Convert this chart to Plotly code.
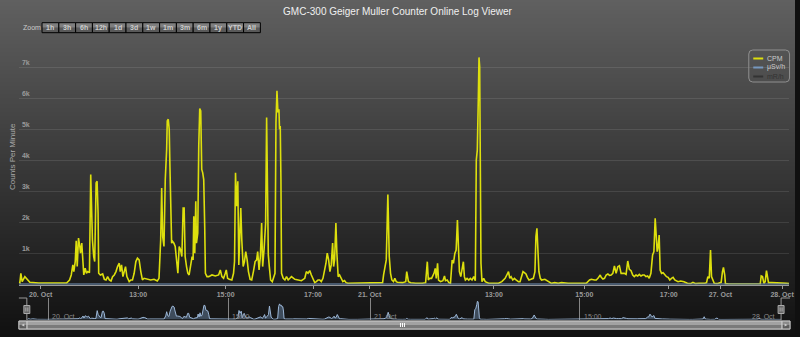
import plotly.graph_objects as go

W, H = 800, 337

# ---------------- data (ordinal sample position, counts per minute) ----------------
pos = [0, 1, 2, 3.3, 6, 8.7, 11, 20, 30, 40, 48, 51, 52.7, 54.3, 55.3, 56.7, 57.7, 58.7, 60, 61.3, 62, 63.3, 64.3, 65.3,
       66.7, 68, 69.3, 71, 72.3, 73.3, 74, 75.3, 76.3, 77.7, 78.7, 79.7, 80.3, 82, 84.3, 86, 87.7, 89.3, 91, 92.7, 94.3,
       96, 97.7, 99.3, 101, 102, 103.3, 104.7, 106, 107.3, 108.7, 111, 112.7, 114.3, 116, 117.7, 119.3, 121, 122.7,
       124.3, 126, 129.3, 132.7, 136, 139.3, 141, 142.7, 143.7, 144.7, 146, 147.3, 148.7, 149.3, 150.3, 151.3, 152,
       152.7, 153.7, 154.7, 156, 157.3, 158.7, 160, 161.3, 162.7, 164, 165.3, 166.3, 167.3, 168.7, 170, 171.3, 172.7,
       174.3, 175.3, 176, 177, 178, 178.7, 180, 181, 182, 183, 184, 185, 186, 187, 187.7, 189.3,
       191, 194.3, 197.7, 201, 202.7, 204.3, 206, 207.7, 208.7, 210, 211.7, 214.3, 216, 217, 218, 219, 220.3, 221.3,
       222.3, 223.3, 224.3, 225.7, 227, 228.3, 229.7, 231, 232.7, 234.3, 236, 237.7, 239.3, 240.3, 241.7, 243, 244.3,
       245.3, 246.7, 248.3, 249.3, 250, 251, 252, 253.3, 255, 256.3, 257.7, 258.7, 259.7, 260.7, 261.7, 262.3, 263,
       263.7, 264.3, 266, 267.7, 269.3, 271, 272.7, 274.3, 277.7, 281, 284.3, 287.7, 289.3, 291, 292.7, 294.3, 296,
       297.7, 299.3, 301, 302.7, 304.3, 306, 307.7, 309, 310.3, 311.7, 313, 314.3, 315.7, 316.7, 317.7, 319, 320,
       321.3, 322.7, 324.3, 326, 327.7, 329.3, 331, 340, 350, 358, 366, 367, 368.3, 369.7, 371.3, 372.7, 374, 375.3,
       377, 378.3, 379.7, 381, 386,
       389.3, 390.3, 392, 394.3, 399.3, 406, 409.3, 411, 412, 413.3, 415.3, 417.7, 419, 420, 421.3, 422.3, 424.3,
       426.7, 428.3, 429.3, 431, 432.7, 434.3, 436, 437.3, 438.7, 440, 441.3, 442.3, 443.3, 444.7, 446, 447.3, 448.3,
       449.3, 451, 452.7, 454.3, 456, 457.7, 459.3, 460.3, 461.3, 462.3, 463, 463.7, 464.3, 465, 466, 467.7, 469.3,
       472.7, 479.3, 482.7, 486, 489.3, 491, 492.7, 494, 495.3, 497, 498.7, 500.3, 502.7, 504.3, 506, 507.3, 508.7,
       510.3, 511.7, 513.3, 515.3, 517.7, 519.3, 520.3, 521.3, 522.3, 523.3, 524.7, 526, 529.3, 532.7, 536, 539.3,
       542.7, 546, 549.3, 552.7, 559.3, 566, 571, 574.3, 576, 579.3,
       581, 582.7, 585, 586, 587.7, 589.3, 591, 592.7, 594.3, 596, 597.7, 599.3, 601, 602.7, 604.3, 606, 607.7, 609.3,
       611, 612.7, 614.3, 616, 617.7, 619.3, 621, 622.7, 624.3, 626, 627.7, 629.3, 631, 632.7, 634.3, 636, 637.7, 639,
       640.3, 641.3, 642.3, 643.3, 644.3, 645.3, 646.7, 648.3, 650, 651.7, 653.3, 655, 656.7, 658.3, 660, 661.7, 663.3,
       666, 669.3, 672.7, 676, 678.3, 681, 684.3, 687.7, 690.3, 692, 693.3, 694.7, 696, 697, 698.3, 699.7, 702.7, 705,
       706.7, 708, 709, 710.3, 711, 714.3, 721, 731, 741, 746, 747, 748.3, 749.7, 751, 752.3, 753.3, 754.3, 757.7,
       762.7, 767.7, 772.7, 775]

cpm = [80, 59, 362, 92, 254, 146, 70, 50, 45, 55, 50, 146, 308, 632, 416, 740, 1409, 578, 1496, 1226, 1010, 1334, 578,
       308, 524, 362, 416, 383, 3548, 1982, 1442, 902, 740, 3278, 3332, 2306, 362, 308, 340, 167, 146, 254, 146, 113,
       254, 308, 416, 578, 686, 416, 632, 254, 470, 578, 254, 92, 146, 146, 362, 740, 848, 794, 416, 146, 200, 167, 146,
       167, 113, 200, 1442, 3116, 1550, 1226, 3386, 4358, 5276, 5330, 5006, 3818, 2846, 1334, 1388, 1334, 1226, 794,
       362, 1226, 1118, 902, 2468, 2468, 902, 578, 362, 308, 578, 902, 794, 2198, 1010, 2684, 1334, 1658, 4466, 5675,
       5600, 3710, 3602, 3386, 1874, 362, 254,
       254, 308, 275, 308, 470, 254, 200, 362, 470, 200, 167, 146, 362, 740, 3602, 2522, 3332, 632, 1766, 2468, 1442,
       578, 740, 1064, 794, 416, 167, 146, 416, 740, 794, 1064, 470, 902, 1982, 578, 1118, 1982, 5384, 2738, 956, 578,
       146, 92, 254, 362, 5222, 6248, 5546, 5654, 5006, 5114, 3386, 362, 200, 146, 254, 146, 200, 254, 167, 146, 124,
       200, 416, 362, 448, 308, 146, 59, 92, 146, 146, 92, 200, 470, 686, 1010, 794, 416, 632, 1334, 578, 794, 1982,
       1010, 254, 308, 200, 92, 124, 59, 38, 45, 38, 50, 59, 308, 524, 794, 2900, 902, 362, 146, 92, 200, 92, 70, 59,
       91, 414, 91, 59, 38, 38, 59, 736, 145, 199, 199, 360, 521, 199, 683, 145, 91, 124, 274, 124, 145, 59, 38, 790,
       683, 1005, 1113, 2080, 1328, 414, 253, 468, 736, 253, 145, 199, 145, 199, 145, 253, 124, 4012, 4334, 5951, 7326,
       7025, 4442, 683, 91, 199, 91, 38, 38, 38, 91, 199, 306, 414, 199, 253, 145, 199, 145, 91, 91, 253, 414, 382, 339,
       231, 145, 167, 199, 414, 1543, 1811, 1113, 414, 199, 145, 167, 91, 38, 59, 38, 59, 38, 38, 38, 38, 38, 145, 167,
       145,
       145, 199, 306, 231, 177, 199, 306, 339, 296, 306, 360, 597, 360, 575, 607, 360, 360, 360, 328, 758, 489, 446,
       306, 253, 306, 274, 328, 274, 306, 306, 253, 274, 199, 360, 951, 1059, 2134, 1328, 1059, 1220, 1596, 468, 360,
       382, 306, 253, 231, 145, 199, 231, 145, 124, 91, 113, 91, 38, 27, 70, 27, 38, 27, 38, 59, 253, 199, 1113, 253,
       145, 38, 27, 59, 70, 414, 554, 306, 27, 16, 16, 16, 16, 16, 274, 253, 38, 91, 446, 199, 59, 59, 59, 59, 38, 27]

usv_pos = [0, 200, 400, 600, 775]
usv = [0.4, 0.5, 0.3, 0.4, 0.3]

main_tick_pos = [22, 120, 208, 296, 353, 478, 569, 654, 706, 768]
main_tick_text = ["20. Oct", "13:00", "15:00", "17:00", "21. Oct", "13:00", "15:00", "17:00", "27. Oct", "28. Oct"]
nav_tick_pos = [22, 207, 353, 568, 775]
nav_tick_text = ["20. Oct", "15:00", "21. Oct", "15:00", "28. Oct"]
y_tick_vals = [0, 1000, 2000, 3000, 4000, 5000, 6000, 7000, 8000]
y_tick_text = ["", "1k", "2k", "3k", "4k", "5k", "6k", "7k", ""]
zoom_buttons = ["1h", "3h", "6h", "12h", "1d", "3d", "1w", "1m", "3m", "6m", "1y", "YTD", "All"]
legend_names = ["CPM", "μSv/h", "mR/h"]
legend_colors = ["#DDDF0D", "#7798BF", "#333333"]
legend_text_colors = ["#CCCCCC", "#CCCCCC", "#333333"]

FONT = "Liberation Sans"


def px(x):
    return x / W


def py(y):
    return 1 - y / H


fig = go.Figure()

fig.add_trace(go.Scatter(x=pos, y=cpm, mode="lines", name="CPM",
                         line=dict(color="#DDDF0D", width=1.6), showlegend=False,
                         xaxis="x", yaxis="y", hoverinfo="skip"))
fig.add_trace(go.Scatter(x=usv_pos, y=usv, mode="lines", name="μSv/h",
                         line=dict(color="#7798BF", width=2), showlegend=False,
                         xaxis="x", yaxis="y", hoverinfo="skip"))
fig.add_trace(go.Scatter(x=pos, y=cpm, mode="lines", name="navigator",
                         fill="tozeroy", fillcolor="rgba(119,152,191,0.42)",
                         line=dict(color="#9DB8D8", width=1), showlegend=False,
                         xaxis="x2", yaxis="y2", hoverinfo="skip"))

shapes = []
# background gradient rgb(96,96,96) -> rgb(16,16,16)
for i in range(0, H, 2):
    lv = int(round(96 - 80 * (i + 1) / H))
    shapes.append(dict(type="rect", xref="paper", yref="paper", x0=0, x1=1,
                       y0=py(min(i + 3, H)), y1=py(i), fillcolor=f"rgb({lv},{lv},{lv})",
                       line=dict(width=0), layer="below"))

annotations = []

# range selector
annotations.append(dict(text="Zoom", x=px(21), y=py(28), xref="paper", yref="paper",
                        xanchor="left", yanchor="middle", showarrow=False,
                        font=dict(family=FONT, size=7, color="#CCCCCC")))
bx0, bw = 42.3, 16.9
for i, lab in enumerate(zoom_buttons):
    x0 = bx0 + i * bw
    x1 = x0 + bw
    shapes.append(dict(type="rect", xref="paper", yref="paper", x0=px(x0), x1=px(x1),
                       y0=py(27.7), y1=py(22.7), fillcolor="#7e7e7e", line=dict(width=0), layer="above"))
    shapes.append(dict(type="rect", xref="paper", yref="paper", x0=px(x0), x1=px(x1),
                       y0=py(32.7), y1=py(27.7), fillcolor="#595959", line=dict(width=0), layer="above"))
    shapes.append(dict(type="rect", xref="paper", yref="paper", x0=px(x0), x1=px(x1),
                       y0=py(32.7), y1=py(22.7), fillcolor="rgba(0,0,0,0)",
                       line=dict(color="#000000", width=1), layer="above"))
    annotations.append(dict(text=lab, x=px((x0 + x1) / 2), y=py(27.7), xref="paper", yref="paper",
                            xanchor="center", yanchor="middle", showarrow=False,
                            font=dict(family=FONT, size=7, color="#CCCCCC", weight="bold")))

# y axis title
annotations.append(dict(text="Counts Per Minute", x=px(12), y=py(156), xref="paper", yref="paper",
                        xanchor="center", yanchor="middle", showarrow=False, textangle=-90,
                        font=dict(family=FONT, size=8, color="#AAAAAA")))

# legend box (rounded)
lx0, lx1, ly0, ly1, r = 753.5, 794.5, 50, 82, 4
path = (f"M {px(lx0 + r)},{py(ly0)} L {px(lx1 - r)},{py(ly0)} Q {px(lx1)},{py(ly0)} {px(lx1)},{py(ly0 + r)} "
        f"L {px(lx1)},{py(ly1 - r)} Q {px(lx1)},{py(ly1)} {px(lx1 - r)},{py(ly1)} "
        f"L {px(lx0 + r)},{py(ly1)} Q {px(lx0)},{py(ly1)} {px(lx0)},{py(ly1 - r)} "
        f"L {px(lx0)},{py(ly0 + r)} Q {px(lx0)},{py(ly0)} {px(lx0 + r)},{py(ly0)} Z")
shapes.append(dict(type="path", xref="paper", yref="paper", path=path,
                   line=dict(color="#909090", width=1), fillcolor="rgba(0,0,0,0)", layer="above"))
for i, (nm, c, tc) in enumerate(zip(legend_names, legend_colors, legend_text_colors)):
    yy = 58.5 + i * 9
    shapes.append(dict(type="line", xref="paper", yref="paper", x0=px(758), x1=px(768),
                       y0=py(yy), y1=py(yy), line=dict(color=c, width=2), layer="above"))
    annotations.append(dict(text=nm, x=px(770), y=py(yy), xref="paper", yref="paper",
                            xanchor="left", yanchor="middle", showarrow=False,
                            font=dict(family=FONT, size=7, color=tc)))

# navigator labels (last one kept inside the page edge)
for k, (p, t) in enumerate(zip(nav_tick_pos, nav_tick_text)):
    last = k == len(nav_tick_pos) - 1
    annotations.append(dict(text=t, x=p, y=py(316.3), xref="x2", yref="paper",
                            xanchor="right" if last else "left",
                            yanchor="middle", xshift=-4 if last else 2, showarrow=False,
                            font=dict(family=FONT, size=7, color="#8a8a8a")))

# navigator outline
shapes.append(dict(type="path", xref="paper", yref="paper",
                   path=f"M {px(19)},{py(298)} L {px(27)},{py(298)} L {px(27)},{py(320)}",
                   line=dict(color="#9a9a9a", width=1), layer="above"))
shapes.append(dict(type="path", xref="paper", yref="paper",
                   path=f"M {px(786)},{py(320)} L {px(786)},{py(298)} L {px(795)},{py(298)}",
                   line=dict(color="#9a9a9a", width=1), layer="above"))
# navigator handles
for hx in (27, 786):
    shapes.append(dict(type="rect", xref="paper", yref="paper", x0=px(hx - 3), x1=px(hx + 3),
                       y0=py(313.5), y1=py(305.5), fillcolor="#666666",
                       line=dict(color="#AAAAAA", width=1), layer="above"))
    for gx in (hx - 1, hx + 1):
        shapes.append(dict(type="line", xref="paper", yref="paper", x0=px(gx), x1=px(gx),
                           y0=py(311.5), y1=py(307.5), line=dict(color="#AAAAAA", width=1), layer="above"))

# scrollbar track
shapes.append(dict(type="rect", xref="paper", yref="paper", x0=px(19), x1=px(795), y0=py(329.5), y1=py(321),
                   fillcolor="#1e1e1e", line=dict(color="#666666", width=1), layer="above"))
# scrollbar bar
shapes.append(dict(type="rect", xref="paper", yref="paper", x0=px(27), x1=px(787), y0=py(325), y1=py(321),
                   fillcolor="#a2a2a2", line=dict(width=0), layer="above"))
shapes.append(dict(type="rect", xref="paper", yref="paper", x0=px(27), x1=px(787), y0=py(329), y1=py(325),
                   fillcolor="#7a7a7a", line=dict(width=0), layer="above"))
shapes.append(dict(type="rect", xref="paper", yref="paper", x0=px(27), x1=px(787), y0=py(329), y1=py(321),
                   fillcolor="rgba(0,0,0,0)", line=dict(color="#CCCCCC", width=1), layer="above"))
# scrollbar buttons
for bx in (19, 787):
    shapes.append(dict(type="rect", xref="paper", yref="paper", x0=px(bx), x1=px(bx + 8), y0=py(325), y1=py(321),
                       fillcolor="#8a8a8a", line=dict(width=0), layer="above"))
    shapes.append(dict(type="rect", xref="paper", yref="paper", x0=px(bx), x1=px(bx + 8), y0=py(329), y1=py(325),
                       fillcolor="#5c5c5c", line=dict(width=0), layer="above"))
    shapes.append(dict(type="rect", xref="paper", yref="paper", x0=px(bx), x1=px(bx + 8), y0=py(329), y1=py(321),
                       fillcolor="rgba(0,0,0,0)", line=dict(color="#CCCCCC", width=1), layer="above"))
shapes.append(dict(type="path", xref="paper", yref="paper",
                   path=f"M {px(24.5)},{py(323.5)} L {px(21.5)},{py(325)} L {px(24.5)},{py(326.5)} Z",
                   fillcolor="#CCCCCC", line=dict(width=0), layer="above"))
shapes.append(dict(type="path", xref="paper", yref="paper",
                   path=f"M {px(789.5)},{py(323.5)} L {px(792.5)},{py(325)} L {px(789.5)},{py(326.5)} Z",
                   fillcolor="#CCCCCC", line=dict(width=0), layer="above"))
for rx in (403, 405, 407):
    shapes.append(dict(type="line", xref="paper", yref="paper", x0=px(rx), x1=px(rx),
                       y0=py(327), y1=py(323), line=dict(color="#FFFFFF", width=1), layer="above"))

fig.update_layout(
    width=W, height=H, autosize=False,
    margin=dict(l=0, r=0, t=0, b=0, pad=0),
    paper_bgcolor="rgb(16,16,16)", plot_bgcolor="rgba(0,0,0,0)",
    title=dict(text="GMC-300 Geiger Muller Counter Online Log Viewer", x=0.5, xanchor="center",
               y=py(11), yanchor="middle", xref="paper", yref="paper",
               font=dict(family=FONT, size=10, color="#F0F0F0")),
    showlegend=False,
    xaxis=dict(domain=[px(19), px(794)], range=[0, 775], anchor="y",
               tickmode="array", tickvals=main_tick_pos, ticktext=main_tick_text,
               ticks="outside", ticklen=3, tickcolor="#999999", tickwidth=1,
               showgrid=False, zeroline=False, showline=True, linecolor="#999999", linewidth=1,
               tickfont=dict(family=FONT, size=7, color="#999999", weight="bold"), fixedrange=True),
    yaxis=dict(domain=[py(284.5), py(36.5)], range=[0, 8000], anchor="x",
               tickmode="array", tickvals=y_tick_vals, ticktext=y_tick_text,
               ticklabelposition="inside top", ticks="",
               showgrid=True, gridcolor="rgba(255,255,255,0.1)", gridwidth=1,
               zeroline=False, showline=False,
               tickfont=dict(family=FONT, size=7, color="#999999", weight="bold"), fixedrange=True),
    xaxis2=dict(domain=[px(27), px(786)], range=[0, 775], anchor="y2",
                tickmode="array", tickvals=nav_tick_pos, showticklabels=False, ticks="",
                showgrid=True, gridcolor="#858585", gridwidth=1, zeroline=False, showline=False,
                fixedrange=True),
    yaxis2=dict(domain=[py(319.5), py(298)], range=[0, 8600], anchor="x2",
                showgrid=False, showticklabels=False, zeroline=False, showline=False, ticks="",
                fixedrange=True),
    shapes=shapes,
    annotations=annotations,
)

fig.write_html("out.html")
